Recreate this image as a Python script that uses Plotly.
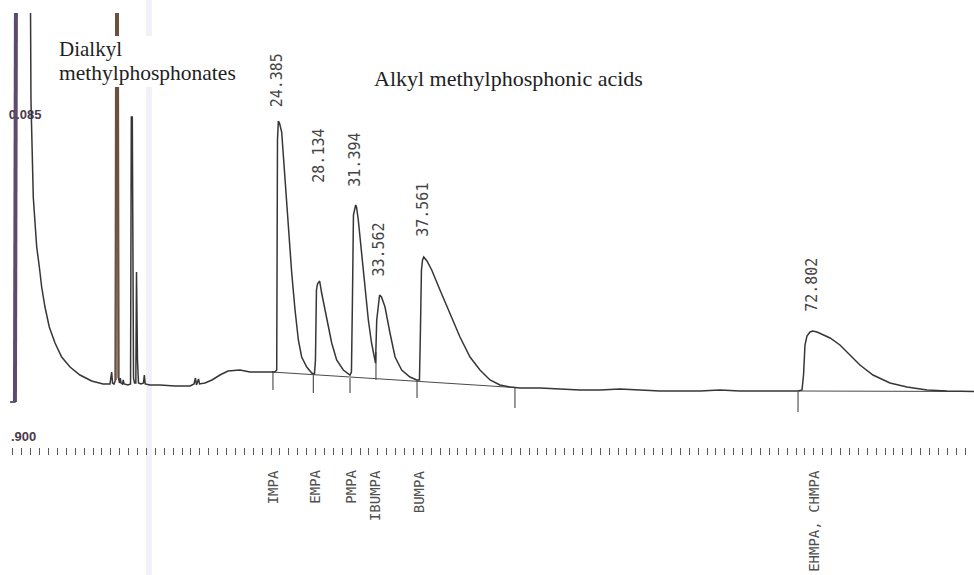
import plotly.graph_objects as go

# ---------------- data (time in min, detector signal in arbitrary units) -------------
time_min = [0.08, 0.53, 0.65, 1.88, 1.98, 2.10, 2.19, 2.35, 2.50, 2.74, 2.95, 3.25, 3.64, 4.16, 4.76, 5.52, 6.42, 7.48, 8.51, 9.14,
            9.23, 9.29, 9.37, 9.50, 9.64, 9.72, 9.83, 9.91, 10.00, 10.07, 10.14, 10.27, 10.34, 10.41, 10.77, 11.00, 11.07, 11.16,
            11.27, 11.36, 11.48, 11.54, 11.63, 11.72, 11.95, 12.17, 12.25, 12.33, 12.76, 13.67, 15.03, 16.39, 16.75, 16.88, 16.97,
            17.16, 17.25, 17.74, 18.38, 19.10, 19.83, 20.46, 20.91, 21.37, 21.82, 22.73, 23.63, 24.08,
            24.24, 24.31, 24.39, 24.49, 24.69, 24.99, 25.29, 25.60, 25.90, 26.20, 26.50, 26.96, 27.41, 27.66,
            27.75, 27.84, 27.93, 28.13, 28.31, 28.77, 29.22, 29.67, 30.27, 30.88, 31.01,
            31.10, 31.19, 31.39, 31.47, 31.63, 31.94, 32.24, 32.54, 32.83, 33.05, 33.19,
            33.30, 33.46, 33.56, 33.73, 34.05, 34.50, 34.96, 35.56, 36.31, 36.92, 37.17,
            37.26, 37.35, 37.45, 37.56, 37.85, 38.28, 39.03, 39.94, 40.84, 41.75, 42.65, 43.56, 44.46, 45.37, 46.28, 48.09,
            49.90, 51.71, 53.52, 55.33, 57.15, 58.96, 60.77, 62.58, 64.39, 66.20, 68.01, 69.83, 71.46, 71.82,
            71.96, 72.09, 72.27, 72.55, 72.80, 73.18, 73.72, 74.36, 75.26, 76.17, 77.07, 78.25, 79.79, 81.33, 83.14, 84.95, 87.40]
signal = [-10, -10, 520, 520, 292, 239, 195, 169, 145, 125, 105, 85, 65, 49, 35, 25, 17, 11, 8, 8,
          16, 20, 9, 8, 12, 520, 520, 14, 9, 14, 9, 8, 12, 8, 7, 8, 275, 275,
          14, 9, 9, 120, 32, 9, 8, 9, 17, 8, 7, 7, 6, 6, 8, 14, 7,
          13, 8, 9, 12, 17, 21, 22, 22, 21, 20, 20, 20, 20,
          22, 252, 271, 269, 260, 212, 162, 119, 82, 52, 35, 25, 19, 18,
          32, 102, 108, 111, 99, 72, 49, 32, 22, 17, 20,
          92, 177, 187, 185, 172, 139, 105, 72, 49, 34, 29,
          72, 92, 97, 95, 85, 59, 35, 22, 15, 12, 12,
          62, 122, 132, 135, 131, 122, 102, 79, 55, 35, 22, 12, 7, 5, 4, 4,
          3, 2, 2, 3, 2, 1, 1, 1, 2, 1, 1, 1, 1, 2,
          17, 47, 56, 60, 61, 60, 57, 54, 47, 37, 27, 17, 9, 5, 2, 1, 0.5]

peak_rt = [24.385, 28.134, 31.394, 33.562, 37.561, 72.802]
peak_height = [271, 111, 187, 97, 135, 61]
compounds = ["IMPA", "EMPA", "PMPA", "IBUMPA", "BUMPA", "EHMPA, CHMPA"]

marker_t = [23.90, 27.56, 30.88, 33.23, 36.95, 45.82, 71.46]
marker_top = [21, 17, 14, 40, 12, 4, 0]
marker_bottom = [2, -1, -1, 12, -6, -16, -20]

baseline_t = [23.81, 45.82, None, 71.46, 87.40]
baseline_s = [20, 4.5, None, 1, 0.5]

# chart-recorder tick row
tick_start, tick_step, tick_count = 0.353, 0.806, 108

# ---------------- styles ----------------
LINE = "#363636"
label_yshift = [12, 96, 16, 16, 18, 17]
name_xshift = [-5, -5, -5, -5, -5, 1]

fig = go.Figure()

# number behind the solvent peak lines
fig.add_trace(go.Scatter(x=[1.45], y=[276], mode="text", text=["0.085"],
                         textfont=dict(family="Liberation Sans", size=13, color="#4a3a4a", weight="bold"),
                         hoverinfo="skip", showlegend=False))

# integration baselines
fig.add_trace(go.Scatter(x=baseline_t, y=baseline_s, mode="lines",
                         line=dict(color="#4a4a4a", width=1.1), hoverinfo="skip", showlegend=False))

# drop markers
mx, my = [], []
for t, a, b in zip(marker_t, marker_top, marker_bottom):
    mx += [t, t, None]
    my += [a, b, None]
fig.add_trace(go.Scatter(x=mx, y=my, mode="lines", line=dict(color="#555555", width=1.2),
                         hoverinfo="skip", showlegend=False))

# chromatogram
fig.add_trace(go.Scatter(x=time_min, y=signal, mode="lines", line=dict(color=LINE, width=1.5),
                         hoverinfo="skip", showlegend=False))

# scan-coloured off-scale peaks
fig.add_trace(go.Scatter(x=time_min[1:3], y=signal[1:3], mode="lines",
                         line=dict(color="#5e4a6e", width=4), hoverinfo="skip", showlegend=False))
fig.add_trace(go.Scatter(x=time_min[24:28], y=signal[24:28], mode="lines",
                         line=dict(color="#6b5040", width=2.2), hoverinfo="skip", showlegend=False))

annotations = []
for rt, h, ys in zip(peak_rt, peak_height, label_yshift):
    annotations.append(dict(x=rt, y=h, xref="x", yref="y", text=f"{rt:.3f}", showarrow=False,
                            textangle=-90, xanchor="center", yanchor="bottom", yshift=ys, xshift=-1,
                            font=dict(family="DejaVu Sans Mono", size=15, color="#444444")))
for rt, name, xs in zip(peak_rt, compounds, name_xshift):
    annotations.append(dict(x=rt, y=(575 - 468) / 562, xref="x", yref="paper", text=name, showarrow=False,
                            textangle=-90, xanchor="center", yanchor="top", xshift=xs,
                            font=dict(family="DejaVu Sans Mono", size=14, color="#505050")))

annotations += [
    dict(x=57 / 974, y=(575 - 49) / 562, xref="paper", yref="paper", text="Dialkyl", showarrow=False,
         xanchor="left", yanchor="middle",
         font=dict(family="Liberation Serif", size=21, color="#1e1e1e")),
    dict(x=57 / 974, y=(575 - 73) / 562, xref="paper", yref="paper", text="methylphosphonates", showarrow=False,
         xanchor="left", yanchor="middle",
         font=dict(family="Liberation Serif", size=21.5, color="#1e1e1e")),
    dict(x=372 / 974, y=(575 - 79) / 562, xref="paper", yref="paper", text="Alkyl methylphosphonic acids",
         showarrow=False, xanchor="left", yanchor="middle",
         font=dict(family="Liberation Serif", size=22, color="#1e1e1e")),
    dict(x=9 / 974, y=(575 - 436) / 562, xref="paper", yref="paper", text=".900", showarrow=False,
         xanchor="left", yanchor="middle",
         font=dict(family="Liberation Sans", size=13, color="#4a3a4a", weight="bold")),
]

shapes = [
    # faint scan band
    dict(type="rect", xref="paper", yref="paper", x0=146 / 974, x1=152 / 974, y0=-0.03, y1=1.03,
         fillcolor="rgba(236,234,246,0.7)", line=dict(width=0), layer="below"),
    # white paper behind the "Dialkyl methylphosphonates" caption
    dict(type="rect", xref="paper", yref="paper", x0=55 / 974, x1=248 / 974,
         y0=(575 - 87) / 562, y1=(575 - 36) / 562,
         fillcolor="white", line=dict(width=0), layer="above"),
]

fig.update_layout(
    width=974, height=575,
    margin=dict(l=0, r=0, t=13, b=0),
    paper_bgcolor="white", plot_bgcolor="white",
    showlegend=False,
    annotations=annotations,
    shapes=shapes,
    xaxis=dict(range=[-0.824, 87.40], showgrid=False, zeroline=False, showline=False,
               ticks="outside", ticklen=7, tickwidth=1, tickcolor="#5a5a5a",
               tickmode="array", tickvals=[tick_start + tick_step * i for i in range(tick_count)],
               showticklabels=False,
               anchor="free", position=(575 - 447) / 562),
    yaxis=dict(range=[-183, 379], visible=False),
)

fig.write_html("out.html")
